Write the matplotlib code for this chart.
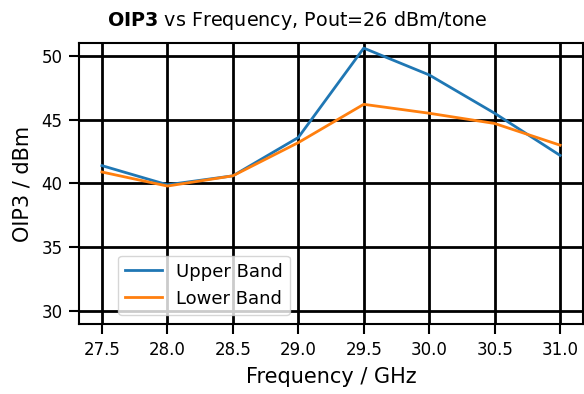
import numpy as np
import matplotlib.pyplot as plt

# OIP3 measurements, two-tone test at Pout = 26 dBm/tone
freq_ghz = [27.5, 28.0, 28.5, 29.0, 29.5, 30.0, 30.5, 31.0]
oip3_upper = [41.4, 39.9, 40.6, 43.6, 50.6, 48.5, 45.5, 42.2]
oip3_lower = [40.9, 39.8, 40.6, 43.2, 46.2, 45.5, 44.7, 43.0]

fig = plt.figure(figsize=(5.84, 3.94), dpi=100)
ax = fig.add_axes([79 / 584, 70 / 394, 504 / 584, 281 / 394])

ax.plot(freq_ghz, oip3_upper, label="Upper Band", lw=2)
ax.plot(freq_ghz, oip3_lower, label="Lower Band", lw=2)

ax.set_ylim(29.0, 51.0)
ax.set_xticks(np.arange(27.5, 31.01, 0.5))
ax.set_yticks([30, 35, 40, 45, 50])
ax.grid(True, color="black", lw=2)
ax.tick_params(axis="both", labelsize=12, length=7, width=1.5, pad=5)
for sp in ax.spines.values():
    sp.set_linewidth(1.5)

ax.set_xlabel("Frequency / GHz", fontsize=15, labelpad=6)
ax.set_ylabel("OIP3 / dBm", fontsize=15, labelpad=6)
ax.set_title(r"$\bf{OIP3}$ vs Frequency, Pout=26 dBm/tone",
             fontsize=13.8, x=0.433, pad=12)
ax.legend(loc="lower left", bbox_to_anchor=(0.06, 0.0), fontsize=13)

fig.savefig("out.png", dpi=100)
